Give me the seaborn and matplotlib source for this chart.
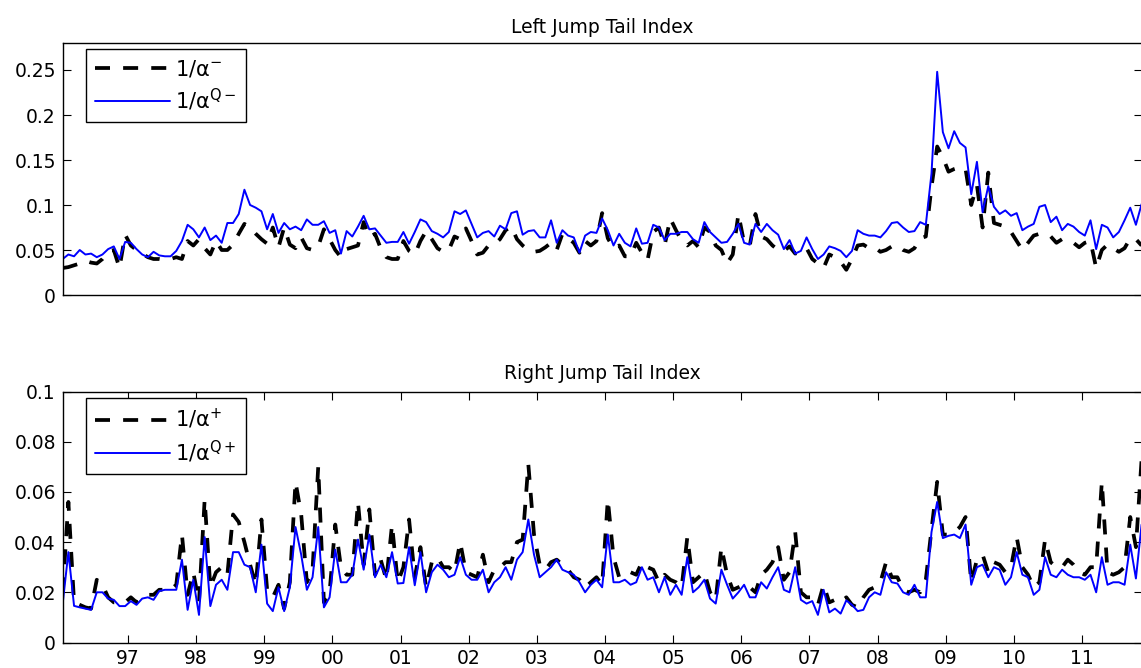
import numpy as np
import pandas as pd
import matplotlib
matplotlib.use("Agg")
import matplotlib.pyplot as plt
import seaborn as sns
from matplotlib.ticker import FuncFormatter

# --- monthly sample, Jan 1996 .. Nov 2011 ---
dates = pd.date_range("1996-01-01", "2011-11-01", freq="MS")
t = np.asarray(dates.year + (dates.month - 0.5) / 12.0)

# Left jump tail index: 1/alpha^- (P) and 1/alpha^{Q-} (Q)
left_p = [
    0.030, 0.031, 0.033, 0.035, 0.038, 0.036, 0.035, 0.040, 0.048, 0.050,
    0.030, 0.067, 0.055, 0.050, 0.046, 0.042, 0.040, 0.040, 0.039, 0.040,
    0.042, 0.040, 0.060, 0.055, 0.062, 0.052, 0.045, 0.060, 0.050, 0.050,
    0.056, 0.068, 0.079, 0.075, 0.068, 0.062, 0.057, 0.075, 0.053, 0.075,
    0.056, 0.052, 0.064, 0.052, 0.050, 0.054, 0.073, 0.062, 0.050, 0.042,
    0.051, 0.053, 0.055, 0.081, 0.064, 0.068, 0.052, 0.042, 0.040, 0.040,
    0.060, 0.049, 0.045, 0.060, 0.071, 0.062, 0.052, 0.048, 0.050, 0.065,
    0.062, 0.074, 0.060, 0.045, 0.047, 0.055, 0.056, 0.062, 0.072, 0.076,
    0.062, 0.055, 0.050, 0.048, 0.049, 0.053, 0.058, 0.050, 0.068, 0.063,
    0.058, 0.047, 0.060, 0.055, 0.060, 0.091, 0.063, 0.052, 0.055, 0.043,
    0.043, 0.058, 0.047, 0.039, 0.070, 0.075, 0.055, 0.085, 0.072, 0.060,
    0.055, 0.060, 0.053, 0.075, 0.070, 0.055, 0.050, 0.035, 0.045, 0.090,
    0.058, 0.055, 0.090, 0.065, 0.062, 0.055, 0.050, 0.049, 0.054, 0.046,
    0.048, 0.052, 0.040, 0.035, 0.030, 0.045, 0.042, 0.037, 0.028, 0.040,
    0.055, 0.056, 0.052, 0.053, 0.048, 0.050, 0.054, 0.055, 0.050, 0.048,
    0.052, 0.063, 0.065, 0.120, 0.165, 0.153, 0.137, 0.140, 0.142, 0.140,
    0.100, 0.122, 0.075, 0.136, 0.080, 0.078, 0.076, 0.070, 0.060, 0.050,
    0.058, 0.066, 0.068, 0.068, 0.065, 0.058, 0.062, 0.061, 0.058, 0.053,
    0.058, 0.060, 0.030, 0.050, 0.056, 0.052, 0.048, 0.052, 0.063, 0.062,
    0.055,
]
left_q = [
    0.040, 0.045, 0.043, 0.050, 0.045, 0.046, 0.042, 0.045, 0.051, 0.054,
    0.040, 0.059, 0.058, 0.051, 0.045, 0.042, 0.048, 0.044, 0.043, 0.043,
    0.049, 0.060, 0.078, 0.073, 0.064, 0.075, 0.061, 0.066, 0.058, 0.080,
    0.080, 0.090, 0.117, 0.100, 0.097, 0.093, 0.073, 0.090, 0.069, 0.080,
    0.073, 0.076, 0.072, 0.084, 0.078, 0.078, 0.082, 0.069, 0.072, 0.046,
    0.071, 0.065, 0.076, 0.088, 0.073, 0.074, 0.066, 0.058, 0.059, 0.059,
    0.070, 0.057, 0.070, 0.084, 0.081, 0.071, 0.068, 0.064, 0.070, 0.093,
    0.090, 0.094, 0.079, 0.064, 0.069, 0.071, 0.065, 0.077, 0.073, 0.091,
    0.093, 0.067, 0.071, 0.072, 0.064, 0.064, 0.083, 0.058, 0.072, 0.066,
    0.064, 0.047, 0.066, 0.070, 0.069, 0.085, 0.072, 0.055, 0.068, 0.058,
    0.054, 0.074, 0.057, 0.058, 0.078, 0.075, 0.061, 0.068, 0.068, 0.070,
    0.070, 0.062, 0.058, 0.081, 0.070, 0.064, 0.058, 0.059, 0.068, 0.079,
    0.058, 0.056, 0.079, 0.070, 0.079, 0.072, 0.067, 0.051, 0.061, 0.046,
    0.049, 0.064, 0.051, 0.040, 0.045, 0.054, 0.052, 0.049, 0.042, 0.049,
    0.072, 0.068, 0.066, 0.066, 0.064, 0.071, 0.080, 0.081, 0.075, 0.070,
    0.071, 0.081, 0.078, 0.135, 0.248, 0.181, 0.163, 0.182, 0.169, 0.164,
    0.112, 0.148, 0.092, 0.121, 0.098, 0.090, 0.094, 0.088, 0.091, 0.072,
    0.076, 0.079, 0.098, 0.100, 0.081, 0.087, 0.072, 0.079, 0.076, 0.070,
    0.066, 0.083, 0.051, 0.078, 0.075, 0.064, 0.070, 0.083, 0.097, 0.078,
    0.101,
]

# Right jump tail index: 1/alpha^+ (P) and 1/alpha^{Q+} (Q)
right_p = [
    0.020, 0.056, 0.016, 0.015, 0.014, 0.0135, 0.025, 0.023, 0.018, 0.016,
    0.016, 0.016, 0.018, 0.016, 0.018, 0.019, 0.019, 0.021, 0.021, 0.021,
    0.023, 0.043, 0.019, 0.028, 0.016, 0.057, 0.022, 0.028, 0.030, 0.027,
    0.051, 0.048, 0.040, 0.031, 0.023, 0.049, 0.021, 0.018, 0.023, 0.0135,
    0.024, 0.064, 0.051, 0.024, 0.029, 0.070, 0.016, 0.020, 0.047, 0.030,
    0.027, 0.027, 0.056, 0.031, 0.053, 0.027, 0.033, 0.025, 0.047, 0.024,
    0.030, 0.049, 0.026, 0.038, 0.022, 0.032, 0.034, 0.030, 0.030, 0.028,
    0.040, 0.028, 0.027, 0.026, 0.035, 0.024, 0.029, 0.030, 0.032, 0.032,
    0.040, 0.041, 0.071, 0.043, 0.031, 0.029, 0.032, 0.033, 0.031, 0.029,
    0.026, 0.025, 0.022, 0.024, 0.026, 0.023, 0.057, 0.034, 0.026, 0.027,
    0.028, 0.027, 0.032, 0.030, 0.029, 0.024, 0.027, 0.025, 0.024, 0.022,
    0.042, 0.024, 0.026, 0.028, 0.020, 0.017, 0.038, 0.027, 0.021, 0.022,
    0.023, 0.022, 0.020, 0.027, 0.029, 0.032, 0.038, 0.025, 0.028, 0.044,
    0.020, 0.018, 0.018, 0.015, 0.023, 0.016, 0.017, 0.016, 0.018, 0.015,
    0.014, 0.018, 0.021, 0.022, 0.024, 0.032, 0.026, 0.026, 0.021, 0.020,
    0.021, 0.020, 0.025, 0.045, 0.064, 0.043, 0.043, 0.044, 0.046, 0.050,
    0.024, 0.033, 0.035, 0.028, 0.032, 0.031, 0.028, 0.030, 0.042, 0.030,
    0.027, 0.022, 0.024, 0.041, 0.032, 0.030, 0.030, 0.033, 0.031, 0.028,
    0.027, 0.030, 0.030, 0.064, 0.028, 0.027, 0.028, 0.030, 0.050, 0.038,
    0.073,
]
right_q = [
    0.0155, 0.036, 0.0146, 0.014, 0.0135, 0.013, 0.020, 0.020, 0.0175, 0.017,
    0.0145, 0.0145, 0.0165, 0.015, 0.0175, 0.018, 0.017, 0.0205, 0.021, 0.021,
    0.021, 0.033, 0.013, 0.025, 0.011, 0.042, 0.0145, 0.023, 0.025, 0.021,
    0.036, 0.036, 0.031, 0.030, 0.020, 0.039, 0.0155, 0.0125, 0.022, 0.0125,
    0.022, 0.046, 0.035, 0.021, 0.026, 0.046, 0.014, 0.018, 0.037, 0.024,
    0.024, 0.027, 0.041, 0.029, 0.043, 0.026, 0.031, 0.026, 0.036, 0.0235,
    0.0237, 0.038, 0.0228, 0.036, 0.020, 0.028, 0.031, 0.029, 0.026, 0.027,
    0.034, 0.027, 0.025, 0.025, 0.029, 0.020, 0.024, 0.026, 0.030, 0.025,
    0.033, 0.036, 0.049, 0.035, 0.026, 0.028, 0.030, 0.033, 0.029, 0.028,
    0.027, 0.024, 0.020, 0.023, 0.025, 0.022, 0.043, 0.024, 0.024, 0.025,
    0.023, 0.024, 0.030, 0.025, 0.026, 0.020, 0.026, 0.019, 0.023, 0.019,
    0.034, 0.020, 0.022, 0.025, 0.0175, 0.0155, 0.029, 0.023, 0.0175, 0.020,
    0.023, 0.018, 0.018, 0.024, 0.0215, 0.026, 0.030, 0.021, 0.020, 0.030,
    0.017, 0.0155, 0.0165, 0.011, 0.021, 0.012, 0.0135, 0.0115, 0.0168, 0.015,
    0.0125, 0.013, 0.018, 0.020, 0.019, 0.028, 0.024, 0.0235, 0.020, 0.019,
    0.023, 0.018, 0.018, 0.044, 0.056, 0.0416, 0.0425, 0.043, 0.0416, 0.047,
    0.023, 0.030, 0.031, 0.026, 0.030, 0.029, 0.023, 0.026, 0.036, 0.027,
    0.026, 0.019, 0.021, 0.034, 0.027, 0.026, 0.029, 0.027, 0.026, 0.026,
    0.025, 0.027, 0.020, 0.034, 0.023, 0.024, 0.024, 0.023, 0.039, 0.0255,
    0.047,
]

year_ticks = list(range(1997, 2012))
year_labels = ["%02d" % (y % 100) for y in year_ticks]
left_yticks = [0, 0.05, 0.1, 0.15, 0.2, 0.25]
right_yticks = [0, 0.02, 0.04, 0.06, 0.08, 0.1]

# --- style (matlab-ish) ---
sns.set_theme(style="white")
plt.rcParams["font.family"] = ["DejaVu Sans"]
plt.rcParams["mathtext.default"] = "regular"
plt.rcParams["text.color"] = "black"
plt.rcParams["axes.labelcolor"] = "black"
plt.rcParams["axes.titlecolor"] = "black"
plt.rcParams["xtick.color"] = "black"
plt.rcParams["ytick.color"] = "black"
plt.rcParams["axes.edgecolor"] = "black"
plt.rcParams["axes.linewidth"] = 1.0

FS = 13.5
dash = (0, (4, 3.5))

fig = plt.figure(figsize=(11.41, 6.68), dpi=100)
ax1 = fig.add_axes([0.05495, 0.55838, 0.94557, 0.37725])
ax2 = fig.add_axes([0.05495, 0.03817, 0.94557, 0.37575])

panels = [
    (ax1, left_p, left_q, r"$1/\alpha^{-}$", r"$1/\alpha^{Q-}$",
     "Left Jump Tail Index", (0, 0.28), left_yticks, 7),
    (ax2, right_p, right_q, r"$1/\alpha^{+}$", r"$1/\alpha^{Q+}$",
     "Right Jump Tail Index", (0, 0.1), right_yticks, 9),
]

for ax, p, q, lab_p, lab_q, title, ylim, yticks, tpad in panels:
    sns.lineplot(x=t, y=p, ax=ax, color="black", linewidth=2.7,
                 linestyle=dash, label=lab_p, estimator=None)
    sns.lineplot(x=t, y=q, ax=ax, color="blue", linewidth=1.4,
                 label=lab_q, estimator=None)
    ax.set_xlabel("")
    ax.set_ylabel("")
    ax.set_xlim(t[0], t[-1])
    ax.set_ylim(*ylim)
    ax.set_yticks(yticks)
    ax.yaxis.set_major_formatter(FuncFormatter(lambda v, pos: "%g" % v))
    ax.set_title(title, fontsize=FS, pad=tpad, color="black")
    ax.tick_params(direction="in", length=5.5, width=0.8, labelsize=FS,
                   colors="black", top=True, right=True, left=True,
                   bottom=True, pad=5)
    for s in ax.spines.values():
        s.set_visible(True)
        s.set_color("black")
    leg = ax.legend(loc="upper left", bbox_to_anchor=(0.0213, 0.976),
                    borderaxespad=0, fontsize=15, handlelength=3.6,
                    handletextpad=0.25, borderpad=0.45, labelspacing=0.35,
                    fancybox=False, framealpha=1, edgecolor="black")
    leg.get_frame().set_linewidth(1.0)

ax1.set_xticks([])
ax2.set_xticks(year_ticks)
ax2.set_xticklabels(year_labels)

fig.savefig("out.png", dpi=100)
